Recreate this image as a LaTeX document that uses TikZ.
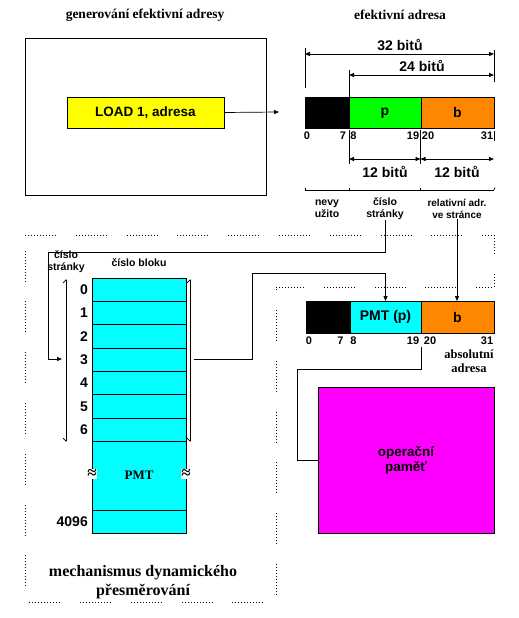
\documentclass[tikz,border=0pt]{standalone}
\usepackage{fontspec}
\setmainfont{Liberation Serif}
\setsansfont{Liberation Sans}
\usetikzlibrary{arrows.meta}
\definecolor{cyanbox}{RGB}{0,255,255}
\definecolor{greenbox}{RGB}{0,255,0}
\definecolor{orangebox}{RGB}{255,135,0}
\definecolor{yellowbox}{RGB}{255,255,0}
\definecolor{magentabox}{RGB}{255,0,255}
\newcommand{\myfs}[2]{\fontsize{#1}{#2}\selectfont}
\tikzset{
  box/.style={draw=black, line width=0.8pt, inner sep=0pt, outer sep=0pt, anchor=north west},
  sflab/.style={font=\sffamily\bfseries\myfs{#1}{#1}, inner sep=0pt, align=center},
  rmlab/.style={font=\rmfamily\bfseries\myfs{#1}{#1}, inner sep=0pt, align=center},
  conn/.style={line width=0.7pt},
  arr/.style={conn, -{Triangle[length=5pt,width=4pt]}},
  dimarr/.style={conn, {Triangle[length=5pt,width=4pt]}-{Triangle[length=5pt,width=4pt]}},
  sidearr/.style={conn, {Straight Barb[harpoon,length=3pt,width=6pt]}-{Straight Barb[harpoon,swap,length=3pt,width=6pt]}},
  dotgroups/.style={line width=0.9pt, dash pattern=on 0.8pt off 2.2pt on 0.8pt off 2.2pt on 0.8pt off 2.2pt on 0.8pt off 2.2pt on 0.8pt off 2.2pt on 0.8pt off 2.2pt on 0.8pt off 2.2pt on 0.8pt off 2.2pt on 0.8pt off 2.2pt on 0.8pt off 2.2pt on 0.8pt off 20pt},
  wave/.style={fill=white, inner sep=0pt, font=\rmfamily\bfseries\myfs{17}{17}},
}
\begin{document}
\begin{tikzpicture}[x=1pt,y=-1pt]
\useasboundingbox (0,0) rectangle (519,618);

% titles
\node[rmlab={13.5}] (t1) at (145,15) {generování efektivní adresy};
\node[rmlab={13.5}] (t2) at (400,15) {efektivní adresa};

% generation box
\node[box, minimum width=241pt, minimum height=157pt] (genbox) at (25,38) {};
\node[box, fill=yellowbox, minimum width=157pt, minimum height=31pt, font=\sffamily\bfseries\myfs{13.5}{14}] (load) at (67,97) {LOAD 1, adresa};
\coordinate (loadend) at (279,112);
\draw[arr] (load.east) -- (loadend);

% effective address bar
\node[box, fill=black, minimum width=44pt, minimum height=31pt] (ea0) at (305,97) {};
\node[box, fill=greenbox, minimum width=72pt, minimum height=31pt, font=\sffamily\bfseries\myfs{14}{14}, text height=8pt, text depth=2pt] (eap) at (349,97) {p};
\node[box, fill=orangebox, minimum width=73pt, minimum height=31pt, font=\sffamily\bfseries\myfs{14}{14}] (eab) at (421,97) {b};

% bit numbers
\node[sflab={11}] (u0) at (307,136) {0};
\node[sflab={11}] (u7) at (343,136) {7};
\node[sflab={11}] (u8) at (353.5,136) {8};
\node[sflab={11}] (u19) at (413,136) {19};
\node[sflab={11}] (u20) at (428,136) {20};
\node[sflab={11}] (u31) at (487,136) {31};

% dimension lines
\coordinate (e1a) at (305,48); \coordinate (e1b) at (305,88);
\coordinate (e2a) at (494,50); \coordinate (e2b) at (494,82);
\coordinate (e3a) at (349,70); \coordinate (e3b) at (349,97);
\draw[conn] (e1a) -- (e1b);
\draw[conn] (e2a) -- (e2b);
\draw[conn] (e3a) -- (e3b);
\coordinate (d32a) at (305,54); \coordinate (d32b) at (494,54);
\draw[dimarr] (d32a) -- (d32b);
\node[sflab={14}] (l32) at (400,45) {32 bitů};
\coordinate (d24a) at (349,75); \coordinate (d24b) at (494,75);
\draw[dimarr] (d24a) -- (d24b);
\node[sflab={14}] (l24) at (422,66) {24 bitů};

\coordinate (e4a) at (349,130); \coordinate (e4b) at (349,164);
\coordinate (e5a) at (420.5,130); \coordinate (e5b) at (420.5,164);
\coordinate (e6a) at (494,131); \coordinate (e6b) at (494,141);
\draw[conn] (e4a) -- (e4b);
\draw[conn] (e5a) -- (e5b);
\draw[conn] (e6a) -- (e6b);
\coordinate (d12a) at (349,159); \coordinate (d12b) at (420.5,159); \coordinate (d12c) at (494,159);
\draw[dimarr] (d12a) -- (d12b);
\draw[dimarr] (d12b) -- (d12c);
\node[sflab={14}] (l12a) at (385,172) {12 bitů};
\node[sflab={14}] (l12b) at (457,172) {12 bitů};

% bracket
\coordinate (br0) at (305,190); \coordinate (br1) at (349,190);
\coordinate (br2) at (420.5,190); \coordinate (br3) at (494,190);
\draw[conn] (br0) -- (br3);
\foreach \c in {br0,br1,br2} { \draw[conn] (\c) -- ++(0,-2.5); }
\draw[conn] (br3) -- ++(1,-2.5);

\node[sflab={10}, font=\sffamily\bfseries\myfs{10.5}{12}] (nevy) at (327,209) {nevy\\užito};
\node[sflab={10}, font=\sffamily\bfseries\myfs{10.5}{12}] (cislo) at (385,209) {číslo\\stránky};
\node[sflab={10}, font=\sffamily\bfseries\myfs{10}{12}] (rel) at (457,209) {relativní adr.\\ve stránce};

% dotted region
\draw[dotgroups] (25,235) -- (494,235) -- (494,287) -- (276,287) -- (276,602) -- (25,602) -- cycle;

% PMT table
\node[sflab={10}, font=\sffamily\bfseries\myfs{10.5}{12}] (cs2) at (66,262) {číslo\\stránky};
\node[sflab={10.5}] (cb) at (139,263) {číslo bloku};
\foreach \i in {0,...,6} {
  \node[box, fill=cyanbox, minimum width=94pt, minimum height=23.33pt] (r\i) at (92,{278+23.33*\i}) {};
  \node[sflab={14}, anchor=east] (n\i) at (88,{289.7+23.33*\i}) {\i};
}
\node[box, fill=cyanbox, minimum width=94pt, minimum height=68.67pt, font=\rmfamily\bfseries\myfs{13}{13}] (pmt) at (92,441.33) {PMT};
\node[box, fill=cyanbox, minimum width=94pt, minimum height=23pt] (rlast) at (92,510) {};
\node[sflab={14}, anchor=east] (nlast) at (88,522) {4096};
\node[wave] (w1) at (92,474) {≈};
\node[wave] (w2) at (186,474) {≈};

\coordinate (s1a) at (66,279); \coordinate (s1b) at (66,442);
\coordinate (s2a) at (190,279); \coordinate (s2b) at (190,442);
\draw[sidearr] (s1a) -- (s1b);
\draw[sidearr] (s2a) -- (s2b);

% absolute address bar
\node[box, fill=black, minimum width=44pt, minimum height=32pt] (aa0) at (306,301) {};
\node[box, fill=cyanbox, minimum width=71pt, minimum height=32pt, font=\sffamily\bfseries\myfs{14}{14}] (aap) at (350,301) {PMT (p)};
\node[box, fill=orangebox, minimum width=73pt, minimum height=32pt, font=\sffamily\bfseries\myfs{14}{14}] (aab) at (421,301) {b};

\node[sflab={11}] (v0) at (309,341) {0};
\node[sflab={11}] (v7) at (340.5,341) {7};
\node[sflab={11}] (v8) at (353.5,341) {8};
\node[sflab={11}] (v19) at (413,341) {19};
\node[sflab={11}] (v20) at (430,341) {20};
\node[sflab={11}] (v31) at (487,341) {31};
\node[rmlab={12.5}, font=\rmfamily\bfseries\myfs{12.5}{14}] (abs) at (469,361) {absolutní\\adresa};

% memory
\node[box, fill=magentabox, minimum width=176pt, minimum height=146pt, font=\sffamily\bfseries\myfs{13.5}{15}, align=center] (mem) at (318,387) {operační\\paměť};

% connectors
\coordinate (k1) at (48,252);
\coordinate (pin) at (62,359);
\draw[arr] (cislo.south) |- (k1) |- (pin);

\coordinate (blk3) at (194,359);
\coordinate (k3) at (252,273);
\draw[arr] (blk3) -| (k3) -| (aap.north);

\draw[arr] (rel.south) -- (rel.south |- aab.north);

\coordinate (t19) at (421,347);
\coordinate (k4) at (297,369);
\draw[conn] (t19) |- (k4) |- (mem.west);

% caption
\node[rmlab={16}, font=\rmfamily\bfseries\myfs{16}{19}] (cap) at (143,582) {mechanismus dynamického\\přesměrování};
\end{tikzpicture}
\end{document}
